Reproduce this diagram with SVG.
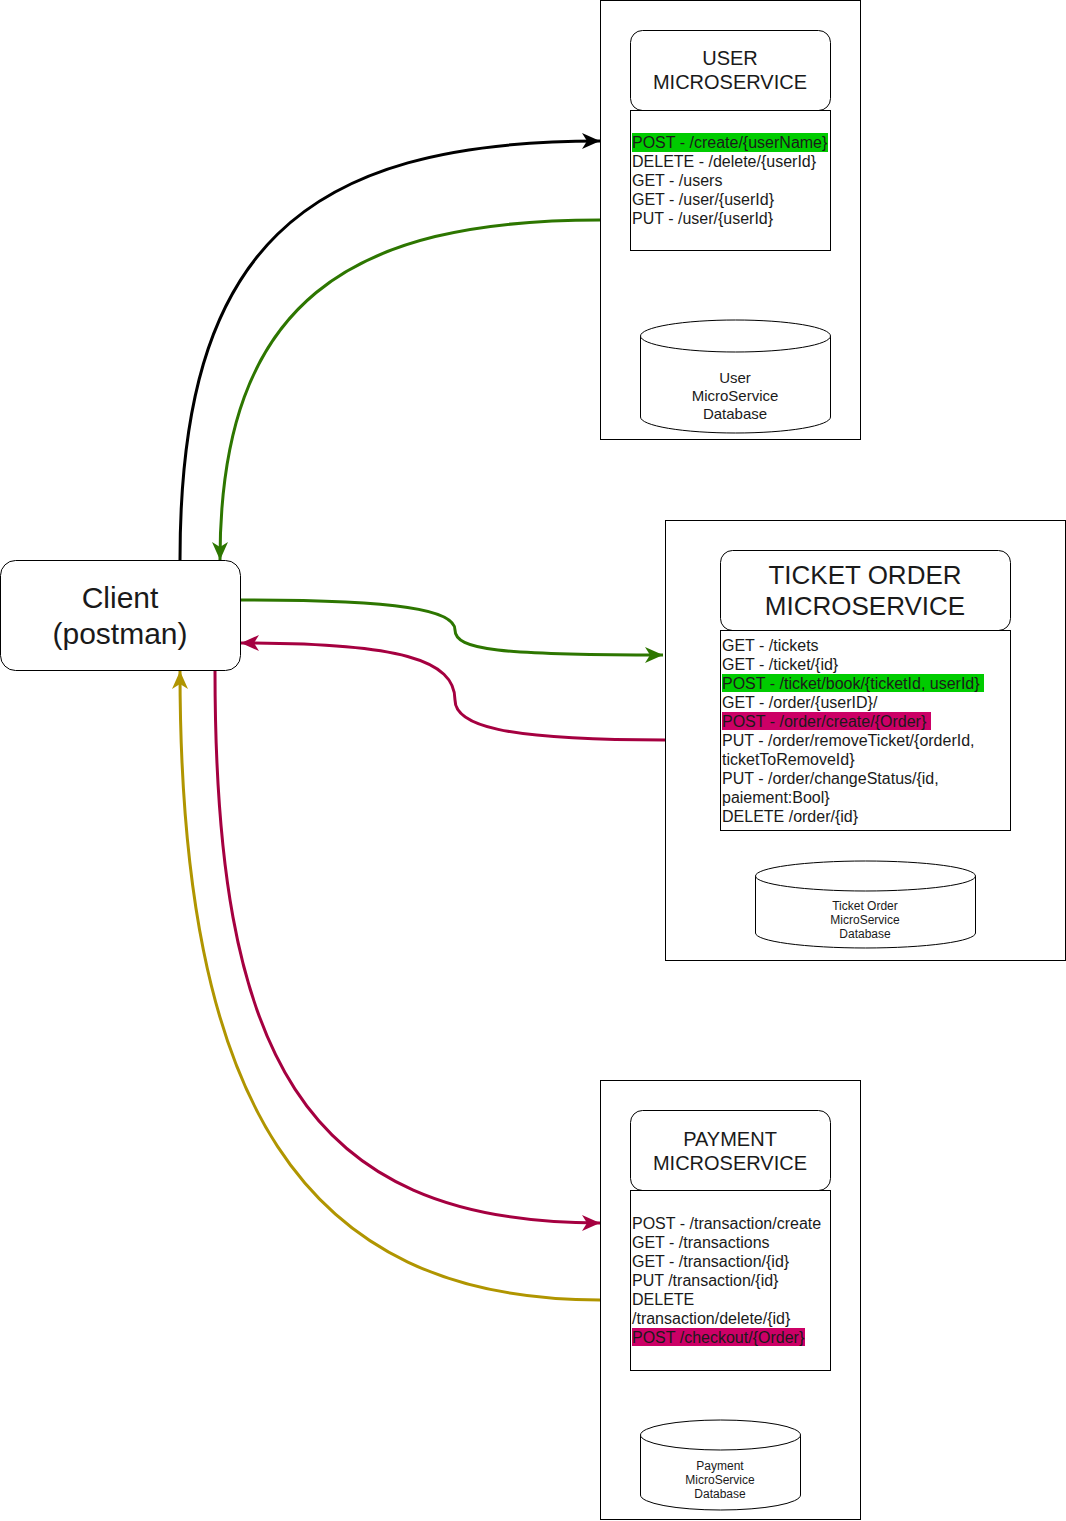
<svg xmlns="http://www.w3.org/2000/svg" width="1066" height="1521" viewBox="0 0 1066 1521">
<style>
.box{fill:#fff;stroke:#000;stroke-width:1}
.t{font-family:"Liberation Sans",Arial,sans-serif;fill:#1a1a1a}
.title{font-size:20px;text-anchor:middle}
.big{font-size:26px;text-anchor:middle}
.cl{font-size:30px;text-anchor:middle}
.ep{font-size:16px}
.db{font-size:15px;text-anchor:middle}
.dbs{font-size:12px;text-anchor:middle}
.c{fill:none;stroke-width:3}
.hg{fill:#00cc00}
.hm{fill:#cc0066}
</style>
<defs>
<marker id="ak" markerUnits="userSpaceOnUse" markerWidth="20" markerHeight="18" refX="18" refY="8" orient="auto"><path d="M0,0 L18,8 L0,16 L5,8 Z" fill="#000"/></marker>
<marker id="ag" markerUnits="userSpaceOnUse" markerWidth="20" markerHeight="18" refX="18" refY="8" orient="auto"><path d="M0,0 L18,8 L0,16 L5,8 Z" fill="#2d7600"/></marker>
<marker id="am" markerUnits="userSpaceOnUse" markerWidth="20" markerHeight="18" refX="18" refY="8" orient="auto"><path d="M0,0 L18,8 L0,16 L5,8 Z" fill="#a50040"/></marker>
<marker id="ao" markerUnits="userSpaceOnUse" markerWidth="20" markerHeight="18" refX="18" refY="8" orient="auto"><path d="M0,0 L18,8 L0,16 L5,8 Z" fill="#b09500"/></marker>
</defs>

<g id="user-ms">
<rect class="box" x="600.5" y="0.5" width="260" height="439"/>
<rect class="box" x="630.5" y="30.5" width="200" height="80" rx="12"/>
<text class="t title" x="730" y="65">USER</text>
<text class="t title" x="730" y="89">MICROSERVICE</text>
<rect class="box" x="630.5" y="110.5" width="200" height="140"/>
<rect class="hg" x="632" y="133" width="196" height="19"/>
<text class="t ep" x="632" y="148">POST - /create/{userName}</text>
<text class="t ep" x="632" y="167">DELETE - /delete/{userId}</text>
<text class="t ep" x="632" y="186">GET - /users</text>
<text class="t ep" x="632" y="205">GET - /user/{userId}</text>
<text class="t ep" x="632" y="224">PUT - /user/{userId}</text>
</g>
<g id="user-db">
<path class="box" d="M640.5,336 L640.5,417 A95,16 0 0 0 830.5,417 L830.5,336"/>
<ellipse class="box" cx="735.5" cy="336" rx="95" ry="16"/>
<text class="t db" x="735" y="383">User</text>
<text class="t db" x="735" y="401">MicroService</text>
<text class="t db" x="735" y="419">Database</text>
</g>

<g id="ticket-ms">
<rect class="box" x="665.5" y="520.5" width="400" height="440"/>
<rect class="box" x="720.5" y="550.5" width="290" height="80" rx="12"/>
<text class="t big" x="865" y="584">TICKET ORDER</text>
<text class="t big" x="865" y="615">MICROSERVICE</text>
<rect class="box" x="720.5" y="630.5" width="290" height="200"/>
<rect class="hg" x="722" y="674" width="262" height="18"/>
<rect class="hm" x="722" y="712" width="209" height="18"/>
<text class="t ep" x="722" y="651">GET - /tickets</text>
<text class="t ep" x="722" y="670">GET - /ticket/{id}</text>
<text class="t ep" x="722" y="689">POST - /ticket/book/{ticketId, userId}</text>
<text class="t ep" x="722" y="708">GET - /order/{userID}/</text>
<text class="t ep" x="722" y="727">POST - /order/create/{Order}</text>
<text class="t ep" x="722" y="746">PUT - /order/removeTicket/{orderId,</text>
<text class="t ep" x="722" y="765">ticketToRemoveId}</text>
<text class="t ep" x="722" y="784">PUT - /order/changeStatus/{id,</text>
<text class="t ep" x="722" y="803">paiement:Bool}</text>
<text class="t ep" x="722" y="822">DELETE /order/{id}</text>
</g>
<g id="ticket-db">
<path class="box" d="M755.5,876 L755.5,933 A110,15 0 0 0 975.5,933 L975.5,876"/>
<ellipse class="box" cx="865.5" cy="876" rx="110" ry="15"/>
<text class="t dbs" x="865" y="910">Ticket Order</text>
<text class="t dbs" x="865" y="924">MicroService</text>
<text class="t dbs" x="865" y="938">Database</text>
</g>

<g id="payment-ms">
<rect class="box" x="600.5" y="1080.5" width="260" height="439"/>
<rect class="box" x="630.5" y="1110.5" width="200" height="80" rx="12"/>
<text class="t title" x="730" y="1146">PAYMENT</text>
<text class="t title" x="730" y="1170">MICROSERVICE</text>
<rect class="box" x="630.5" y="1190.5" width="200" height="180"/>
<rect class="hm" x="632" y="1328" width="173" height="18"/>
<text class="t ep" x="632" y="1229">POST - /transaction/create</text>
<text class="t ep" x="632" y="1248">GET - /transactions</text>
<text class="t ep" x="632" y="1267">GET - /transaction/{id}</text>
<text class="t ep" x="632" y="1286">PUT /transaction/{id}</text>
<text class="t ep" x="632" y="1305">DELETE</text>
<text class="t ep" x="632" y="1324">/transaction/delete/{id}</text>
<text class="t ep" x="632" y="1343">POST /checkout/{Order}</text>
</g>
<g id="payment-db">
<path class="box" d="M640.5,1435 L640.5,1495 A80,15 0 0 0 800.5,1495 L800.5,1435"/>
<ellipse class="box" cx="720.5" cy="1435" rx="80" ry="15"/>
<text class="t dbs" x="720" y="1470">Payment</text>
<text class="t dbs" x="720" y="1484">MicroService</text>
<text class="t dbs" x="720" y="1498">Database</text>
</g>

<g id="client">
<rect class="box" x="0.5" y="560.5" width="240" height="110" rx="15"/>
<text class="t cl" x="120" y="608">Client</text>
<text class="t cl" x="120" y="644">(postman)</text>
</g>

<g id="connectors">
<path class="c" stroke="#000" marker-end="url(#ak)" d="M180,560 C180,250 300,141 600,141"/>
<path class="c" stroke="#2d7600" marker-end="url(#ag)" d="M600,220 C350,220 220,300 220,560"/>
<path class="c" stroke="#2d7600" marker-end="url(#ag)" d="M241,600 C400,600 455,610 455,630 C455,650 500,655 663,655"/>
<path class="c" stroke="#a50040" marker-end="url(#am)" d="M665,740 C500,740 455,725 455,700 C455,660 400,643 241,643"/>
<path class="c" stroke="#a50040" marker-end="url(#am)" d="M215,671 C215,1050 300,1223 600,1223"/>
<path class="c" stroke="#b09500" marker-end="url(#ao)" d="M600,1300 C300,1300 180,1100 180,671"/>
</g>
</svg>
